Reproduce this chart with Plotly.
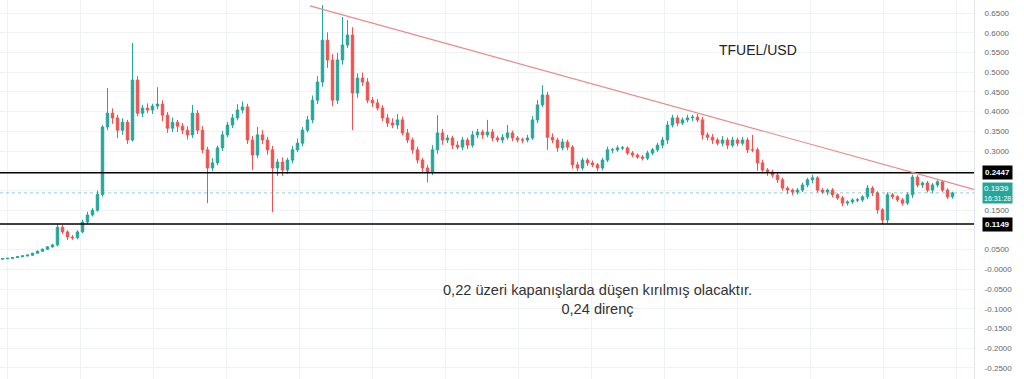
import plotly.graph_objects as go

# ---------------- data ----------------
closes = [
    0.027, 0.028, 0.030, 0.032, 0.034, 0.036, 0.041, 0.046, 0.051, 0.057,
    0.062, 0.107, 0.095, 0.082, 0.080, 0.095, 0.120, 0.138, 0.150, 0.190,
    0.361, 0.396, 0.384, 0.353, 0.373, 0.328, 0.480, 0.396, 0.409, 0.404,
    0.414, 0.419, 0.391, 0.358, 0.373, 0.363, 0.353, 0.341, 0.396, 0.353,
    0.303, 0.257, 0.270, 0.308, 0.341, 0.366, 0.384, 0.404, 0.412, 0.328,
    0.290, 0.341, 0.328, 0.303, 0.257, 0.272, 0.252, 0.277, 0.303, 0.320,
    0.353, 0.379, 0.429, 0.475, 0.581, 0.531, 0.429, 0.531, 0.569, 0.594,
    0.447, 0.485, 0.475, 0.429, 0.422, 0.409, 0.384, 0.371, 0.366, 0.379,
    0.346, 0.328, 0.303, 0.277, 0.257, 0.247, 0.303, 0.346, 0.328, 0.333,
    0.315, 0.310, 0.328, 0.315, 0.341, 0.348, 0.341, 0.348, 0.333, 0.328,
    0.335, 0.346, 0.333, 0.328, 0.328, 0.333, 0.379, 0.417, 0.442, 0.335,
    0.328, 0.308, 0.323, 0.310, 0.265, 0.257, 0.277, 0.270, 0.265, 0.257,
    0.277, 0.303, 0.303, 0.308, 0.308, 0.295, 0.290, 0.285, 0.282, 0.295,
    0.303, 0.315, 0.328, 0.366, 0.384, 0.371, 0.379, 0.384, 0.386, 0.379,
    0.341, 0.335, 0.328, 0.320, 0.328, 0.315, 0.328, 0.320, 0.328, 0.303,
    0.303, 0.270, 0.252, 0.247, 0.239, 0.227, 0.206, 0.201, 0.196, 0.201,
    0.214, 0.227, 0.232, 0.201, 0.196, 0.201, 0.189, 0.181, 0.168, 0.171,
    0.176, 0.176, 0.184, 0.206, 0.194, 0.151, 0.125, 0.189, 0.184, 0.176,
    0.168, 0.189, 0.234, 0.214, 0.219, 0.201, 0.214, 0.222, 0.201, 0.184,
    0.1939,
]
first_open = 0.026

upper_wick_milli = [
    1, 1, 1, 1, 1, 2, 1, 2, 2, 2,
    3, 8, 6, 4, 5, 4, 6, 8, 6, 10,
    5, 64, 12, 8, 10, 6, 94, 10, 8, 12,
    6, 43, 10, 8, 12, 6, 8, 10, 21, 8,
    10, 8, 12, 6, 10, 8, 10, 15, 14, 8,
    10, 20, 12, 8, 10, 8, 12, 6, 10, 12,
    8, 10, 12, 15, 89, 20, 15, 18, 71, 38,
    20, 12, 14, 10, 8, 10, 8, 10, 12, 15,
    8, 10, 6, 8, 6, 8, 12, 45, 10, 8,
    6, 10, 8, 6, 10, 8, 6, 31, 8, 6,
    8, 20, 6, 5, 6, 8, 10, 12, 25, 8,
    10, 6, 8, 6, 5, 8, 6, 5, 6, 5,
    6, 8, 5, 6, 5, 4, 5, 4, 5, 6,
    5, 6, 8, 10, 8, 7, 6, 8, 6, 8,
    8, 6, 8, 6, 10, 6, 8, 6, 8, 6,
    38, 6, 8, 5, 6, 5, 6, 5, 4, 5,
    6, 5, 8, 4, 5, 4, 5, 4, 5, 4,
    4, 5, 4, 8, 5, 4, 4, 6, 5, 4,
    5, 6, 6, 5, 4, 5, 5, 4, 4, 5,
    3,
]
lower_wick_milli = [
    1, 1, 1, 1, 1, 1, 2, 1, 2, 2,
    2, 4, 6, 8, 5, 4, 3, 5, 4, 4,
    6, 8, 15, 20, 12, 10, 4, 8, 10, 8,
    10, 8, 15, 12, 10, 15, 10, 12, 8, 10,
    8, 89, 8, 6, 8, 6, 8, 6, 8, 10,
    38, 8, 10, 12, 112, 20, 15, 10, 8, 6,
    8, 6, 8, 10, 12, 20, 15, 10, 12, 8,
    94, 12, 10, 8, 10, 6, 8, 10, 8, 10,
    6, 8, 10, 8, 12, 27, 8, 10, 12, 8,
    10, 6, 8, 10, 6, 8, 10, 6, 8, 6,
    8, 6, 8, 6, 8, 6, 5, 8, 6, 32,
    8, 10, 6, 8, 10, 8, 6, 8, 6, 8,
    6, 5, 8, 5, 6, 5, 6, 5, 6, 5,
    5, 6, 8, 10, 6, 8, 5, 6, 8, 6,
    12, 8, 10, 6, 8, 10, 6, 8, 6, 8,
    6, 20, 8, 10, 6, 8, 6, 10, 8, 6,
    5, 6, 8, 6, 5, 8, 6, 5, 8, 6,
    5, 6, 5, 6, 8, 10, 10, 8, 6, 5,
    6, 5, 8, 6, 8, 6, 8, 6, 5, 6,
    5,
]

resistance_level = 0.2447
support_level = 0.1149
last_price = 0.1939
last_time = "16:31:28"
trend_from = (61.5, 0.668)
trend_to = (194.3, 0.203)

tick_values = [0.65, 0.60, 0.55, 0.50, 0.45, 0.40, 0.35, 0.30, 0.25, 0.20,
               0.15, 0.10, 0.05, 0.0, -0.05, -0.10, -0.15, -0.20, -0.25]
# labels at 0.25 / 0.20 / 0.10 are hidden behind the price boxes
tick_labels = ["0.6500", "0.6000", "0.5500", "0.5000", "0.4500", "0.4000",
               "0.3500", "0.3000", "", "", "0.1500", "",
               "0.0500", "-0.0000", "-0.0500", "-0.1000", "-0.1500",
               "-0.2000", "-0.2500"]

title_text = "TFUEL/USD"
note_lines = ["0,22 üzeri kapanışlarda düşen kırılmış olacaktır.", "0,24 direnç"]

assert len(closes) == len(upper_wick_milli) == len(lower_wick_milli)

# ---------------- build OHLC ----------------
n = len(closes)
idx = list(range(n))
opens = [first_open] + closes[:-1]
highs = [max(o, c) + u / 1000 for o, c, u in zip(opens, closes, upper_wick_milli)]
lows = [min(o, c) - d / 1000 for o, c, d in zip(opens, closes, lower_wick_milli)]

UP = "#26a69a"
DOWN = "#ef5350"
FONT = "Liberation Sans, Arial"

fig = go.Figure()
fig.add_trace(go.Candlestick(
    x=idx, open=opens, high=highs, low=lows, close=closes,
    increasing=dict(line=dict(color=UP, width=1), fillcolor=UP),
    decreasing=dict(line=dict(color=DOWN, width=1), fillcolor=DOWN),
    whiskerwidth=0, showlegend=False, hoverinfo="skip",
))

# last-price dotted line
fig.add_shape(type="line", xref="paper", x0=0, x1=1, yref="y",
              y0=last_price, y1=last_price,
              line=dict(color=UP, width=1, dash="dot"), opacity=0.5)
# support / resistance
for lvl in (resistance_level, support_level):
    fig.add_shape(type="line", xref="paper", x0=0, x1=1, yref="y",
                  y0=lvl, y1=lvl, line=dict(color="#000000", width=1.5))
# trend line
fig.add_shape(type="line", xref="x", yref="y",
              x0=trend_from[0], y0=trend_from[1], x1=trend_to[0], y1=trend_to[1],
              line=dict(color="#e88a8a", width=1.2))

# axis price labels
for lvl in (resistance_level, support_level):
    fig.add_annotation(xref="paper", x=1.0085, xanchor="left", yref="y", y=lvl,
                       text=f"<b>{lvl:.4f}</b>", showarrow=False,
                       font=dict(family=FONT, size=8, color="#ffffff"),
                       bgcolor="#000000", borderpad=2)
fig.add_annotation(xref="paper", x=1.0085, xanchor="left", yref="y", y=last_price,
                   text=f"{last_price:.4f}<br><span style='font-size:7px'>{last_time}</span>",
                   showarrow=False, align="left",
                   font=dict(family=FONT, size=8, color="#ffffff"),
                   bgcolor=UP, borderpad=1)

fig.add_annotation(xref="paper", yref="paper", x=758 / 974, y=1 - 50 / 379,
                   xanchor="center", yanchor="middle",
                   text=title_text, showarrow=False,
                   font=dict(family=FONT, size=14, color="#222222"))
fig.add_annotation(xref="paper", yref="paper", x=597 / 974, y=1 - 299 / 379,
                   xanchor="center", yanchor="middle",
                   text="<br>".join(note_lines), showarrow=False, align="center",
                   font=dict(family=FONT, size=14.6, color="#333333"))

fig.update_layout(
    width=1024, height=379,
    margin=dict(l=0, r=50, t=0, b=0),
    paper_bgcolor="#ffffff", plot_bgcolor="#ffffff",
    xaxis=dict(range=[-0.5, 194.3], showticklabels=False, rangeslider=dict(visible=False),
               showgrid=True, gridcolor="#f0f3f6", gridwidth=1, tick0=0.9, dtick=14.6,
               zeroline=False, showline=False, fixedrange=True),
    yaxis=dict(range=[-0.278, 0.683], side="right", tickvals=tick_values, ticktext=tick_labels,
               showgrid=True, gridcolor="#f0f3f6", zeroline=False,
               showline=True, linecolor="#e0e3eb", linewidth=1, mirror=False,
               ticks="", ticklabelstandoff=8,
               tickfont=dict(family=FONT, size=8, color="#666666")),
)

fig.write_html("out.html")
